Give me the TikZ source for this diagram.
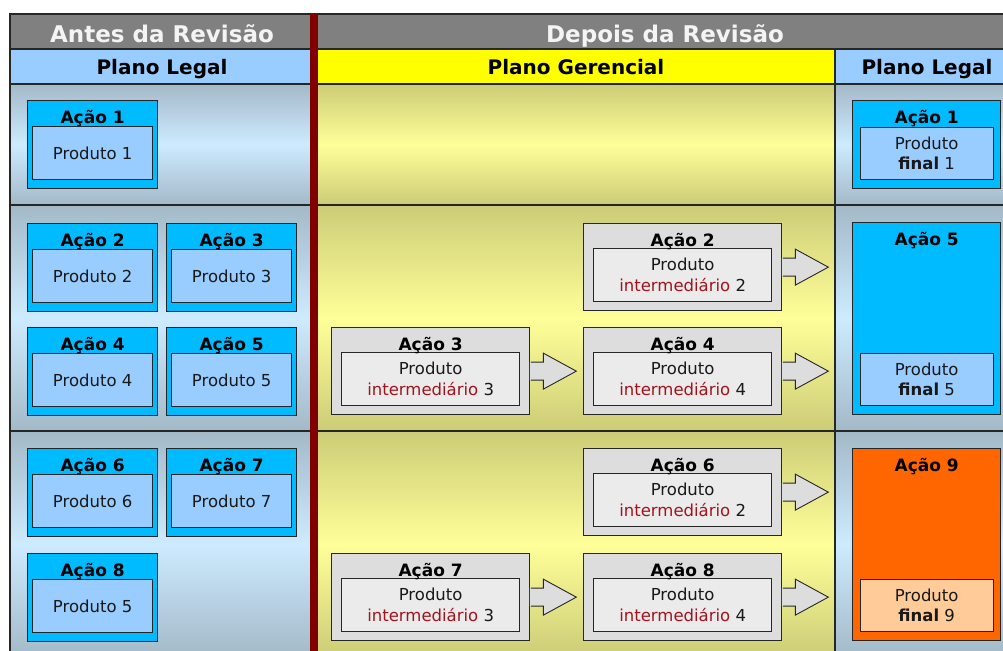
\documentclass[tikz,border=0pt]{standalone}
\usepackage{fontspec}
\setmainfont{DejaVu Sans}
\usetikzlibrary{calc}
\definecolor{hdrgray}{HTML}{808080}
\definecolor{hdrblue}{HTML}{99CCFF}
\definecolor{hdryel}{HTML}{FFFF00}
\definecolor{sepred}{HTML}{800000}
\definecolor{actblue}{HTML}{00BBFF}
\definecolor{prodblue}{HTML}{99CCFF}
\definecolor{boxgray}{HTML}{DDDDDD}
\definecolor{innergray}{HTML}{EBEBEB}
\definecolor{actorange}{HTML}{FF6600}
\definecolor{peach}{HTML}{FFCC99}
\definecolor{intred}{HTML}{A0141E}
\definecolor{bdr}{HTML}{262626}
\definecolor{colblueD}{HTML}{A3B9C8}
\definecolor{colblueL}{HTML}{CDEBFF}
\definecolor{khakiD}{HTML}{CCCC77}
\definecolor{khakiL}{HTML}{FFFF99}
\definecolor{hdrwhite}{HTML}{F4F4F4}
\newcommand\actbox[9]{%
  \node[#2box, minimum width=#5, minimum height=#6, anchor=north west] (#1) at (#3,#4) {};
  \node[#2in, anchor=north] (#1p) at ($(#1.north)+(0,#7)$) {#9};
  \node[ttl, anchor=base] (#1t) at ($(#1.north)+(0,23.5)$) {#8};
}
\newcommand\blockarr[1]{%
  \fill[boxgray] ($(#1.east)+(-0.5,-9)$) -- ++(13.5,0) -- ++(0,-9) -- ++(33,18) -- ++(-33,18) -- ++(0,-9) -- ++(-13.5,0) -- cycle;
  \draw[bdr, line width=0.9pt, line join=miter] ($(#1.east)+(0.6,-9)$) -- ++(12.4,0) -- ++(0,-9) -- ++(33,18) -- ++(-33,18) -- ++(0,-9) -- ++(-12.4,0);
}
\begin{document}
\begin{tikzpicture}[x=1pt,y=-1pt,
  txt/.style={inner sep=0pt, align=center, font=\fontsize{16.5}{20.5}\selectfont, text=black!90},
  ttl/.style={inner sep=0pt, font=\fontsize{17}{20}\selectfont\bfseries, text=black},
  hdrA/.style={inner sep=0pt, font=\fontsize{23}{28}\selectfont\bfseries, text=hdrwhite},
  hdrB/.style={inner sep=0pt, font=\fontsize{20}{24}\selectfont\bfseries, text=black},
  Lbox/.style={draw=bdr, line width=1.3pt, fill=actblue},
  Lin/.style={txt, draw=bdr, line width=0.9pt, fill=prodblue, minimum width=120, minimum height=53},
  Mbox/.style={draw=bdr, line width=1.3pt, fill=boxgray},
  Min/.style={txt, draw=bdr, line width=0.9pt, fill=innergray, minimum width=178, minimum height=53},
  Rbox/.style={draw=bdr, line width=1.3pt, fill=actblue},
  Rin/.style={txt, draw=bdr, line width=0.9pt, fill=prodblue, minimum width=133, minimum height=52},
  Obox/.style={draw=bdr, line width=1.3pt, fill=actorange},
  Oin/.style={txt, draw=bdr, line width=0.9pt, fill=peach, minimum width=133, minimum height=52},
  grid/.style={draw=bdr, line width=1.6pt}
]
\useasboundingbox (0,0) rectangle (1003,650);
\fill[white] (0,0) rectangle (1003,650);
% header backgrounds
\fill[hdrgray] (10,14) rectangle (1025,49);
\fill[hdrblue] (10,49) rectangle (310,84);
\fill[hdryel] (318,49) rectangle (835,84);
\fill[hdrblue] (835,49) rectangle (1025,84);
% body cells
\foreach \a/\b in {84/205, 205/431, 431/657} {
  \shade[top color=colblueD, bottom color=colblueD, middle color=colblueL] (10,\a) rectangle (310,\b);
  \shade[top color=khakiD, bottom color=khakiD, middle color=khakiL] (318,\a) rectangle (835,\b);
  \shade[top color=colblueD, bottom color=colblueD, middle color=colblueL] (835,\a) rectangle (1025,\b);
}
% grid lines
\draw[grid] (10,49) -- (1025,49);
\draw[grid] (10,84) -- (1025,84);
\draw[grid] (10,205) -- (1025,205);
\draw[grid] (10,431) -- (1025,431);
\draw[grid] (835,49) -- (835,700);
\draw[grid] (10,700) -- (10,14) -- (1025,14);
\fill[sepred] (310,14) rectangle (318,700);
% headers
\node[hdrA, anchor=base] (antes) at (162,43) {Antes da Revisão};
\node[hdrA, anchor=base] (depois) at (665,43) {Depois da Revisão};
\node[hdrB, anchor=base] (plA) at (162,75) {Plano Legal};
\node[hdrB, anchor=base] (plG) at (576,75) {Plano Gerencial};
\node[hdrB, anchor=base] (plB) at (927,75) {Plano Legal};
% left column
\actbox{L1}{L}{27}{100}{130}{88}{26}{Ação 1}{Produto 1}
\actbox{L2}{L}{27}{223}{130}{88}{26}{Ação 2}{Produto 2}
\actbox{L3}{L}{166}{223}{130}{88}{26}{Ação 3}{Produto 3}
\actbox{L4}{L}{27}{327}{130}{88}{26}{Ação 4}{Produto 4}
\actbox{L5}{L}{166}{327}{130}{88}{26}{Ação 5}{Produto 5}
\actbox{L6}{L}{27}{448}{130}{88}{26}{Ação 6}{Produto 6}
\actbox{L7}{L}{166}{448}{130}{88}{26}{Ação 7}{Produto 7}
\actbox{L8}{L}{27}{553}{130}{88}{26}{Ação 8}{Produto 5}
% middle column
\actbox{M2}{M}{583}{223}{198}{87}{25}{Ação 2}{Produto\\\textcolor{intred}{intermediário} 2}
\actbox{M3}{M}{331}{327}{198}{87}{25}{Ação 3}{Produto\\\textcolor{intred}{intermediário} 3}
\actbox{M4}{M}{583}{327}{198}{87}{25}{Ação 4}{Produto\\\textcolor{intred}{intermediário} 4}
\actbox{M6}{M}{583}{448}{198}{87}{25}{Ação 6}{Produto\\\textcolor{intred}{intermediário} 2}
\actbox{M7}{M}{331}{553}{198}{87}{25}{Ação 7}{Produto\\\textcolor{intred}{intermediário} 3}
\actbox{M8}{M}{583}{553}{198}{87}{25}{Ação 8}{Produto\\\textcolor{intred}{intermediário} 4}
\blockarr{M2}
\blockarr{M3}
\blockarr{M4}
\blockarr{M6}
\blockarr{M7}
\blockarr{M8}
% right column
\actbox{R1}{R}{852}{100}{148}{88}{27}{Ação 1}{Produto\\\textbf{final} 1}
\actbox{R5}{R}{852}{222}{148}{192}{131}{Ação 5}{Produto\\\textbf{final} 5}
\actbox{R9}{O}{852}{448}{148}{192}{131}{Ação 9}{Produto\\\textbf{final} 9}
\end{tikzpicture}
\end{document}
